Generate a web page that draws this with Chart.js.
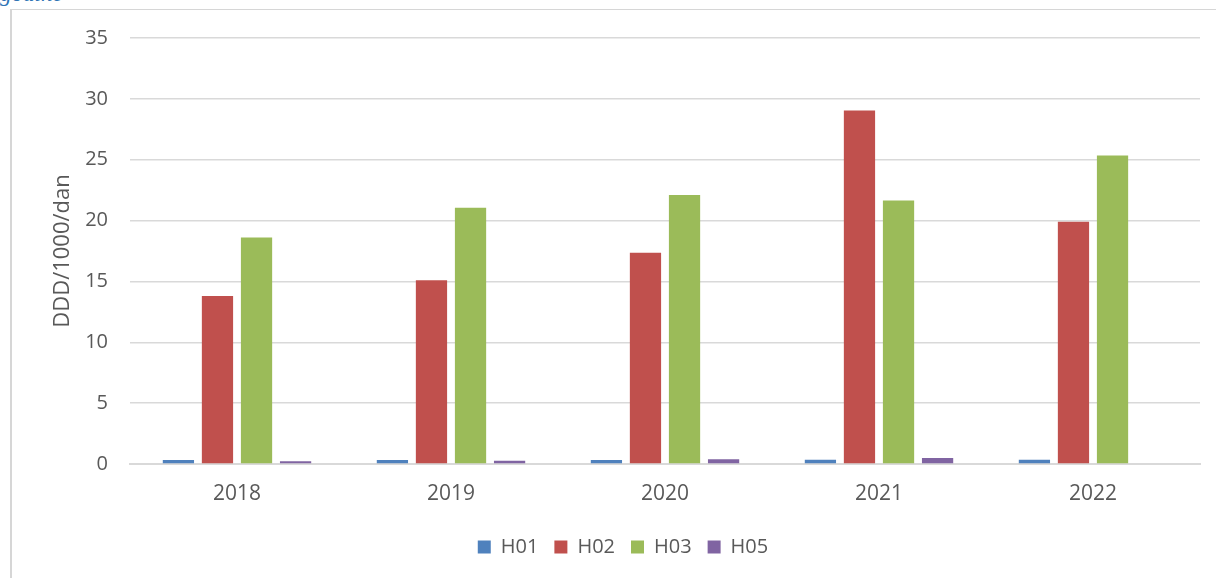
<!DOCTYPE html>
<html>
<head>
<meta charset="utf-8">
<script src="https://cdn.jsdelivr.net/npm/chart.js@4.4.1/dist/chart.umd.min.js"></script>
<style>
  html, body { margin: 0; padding: 0; background: #fff; }
  #wrap { position: relative; width: 1216px; height: 578px; overflow: hidden; }
  #frame { position: absolute; left: 10px; top: 9px; right: 0; bottom: 0;
           border-left: 2px solid #d6d6d6; border-top: 1px solid #d6d6d6; }
  #cap { position: absolute; left: 0; top: -19px; font: italic 23px "Liberation Serif", serif; color: #2e74b5; }
  canvas { position: absolute; left: 0; top: 0; }
</style>
</head>
<body>
<div id="wrap">
  <div id="cap">godine</div>
  <div id="frame"></div>
  <canvas id="c" width="1216" height="578"></canvas>
</div>
<script>
// podaci sa grafikona
const years = ['2018', '2019', '2020', '2021', '2022'];
const h01 = [0.32, 0.32, 0.32, 0.35, 0.35];
const h02 = [13.8, 15.1, 17.35, 29.05, 19.9];
const h03 = [18.6, 21.05, 22.1, 21.65, 25.35];
const h05 = [0.22, 0.27, 0.4, 0.5, 0];
const yTicks = [0, 5, 10, 15, 20, 25, 30, 35];

const font = "'Open Sans', 'DejaVu Sans', sans-serif";
const grey = '#595959';

function ds(label, data, color) {
  return { label, data, backgroundColor: color, borderWidth: 0,
           categoryPercentage: 0.73, barPercentage: 0.8 };
}

new Chart(document.getElementById('c'), {
  type: 'bar',
  data: {
    labels: years,
    datasets: [
      ds('H01', h01, '#4F81BD'),
      ds('H02', h02, '#C0504D'),
      ds('H03', h03, '#9BBB59'),
      ds('H05', h05, '#8064A2')
    ]
  },
  options: {
    responsive: false,
    animation: false,
    layout: { padding: { left: 46, right: 16, top: 38, bottom: 11 } },
    plugins: {
      tooltip: { enabled: false },
      legend: {
        position: 'bottom',
        labels: { boxWidth: 13, boxHeight: 13, padding: 16, color: grey, font: { family: font, size: 20 } }
      }
    },
    scales: {
      x: {
        grid: { display: false },
        border: { color: '#d9d9d9', width: 2 },
        ticks: { color: grey, padding: 9, font: { family: font, size: 21 } },
        afterFit: s => { s.height = 57; }
      },
      y: {
        min: 0, max: 35,
        afterBuildTicks: s => { s.ticks = yTicks.map(v => ({ value: v })); },
        grid: { color: '#d9d9d9', lineWidth: 1.5, drawTicks: false },
        border: { display: false },
        ticks: { color: grey, padding: 22, font: { family: font, size: 20 } },
        title: { display: true, text: 'DDD/1000/dan', color: grey, font: { family: font, size: 22 }, padding: 4 },
        afterFit: s => { s.width = 84; }
      }
    }
  }
});
</script>
</body>
</html>
